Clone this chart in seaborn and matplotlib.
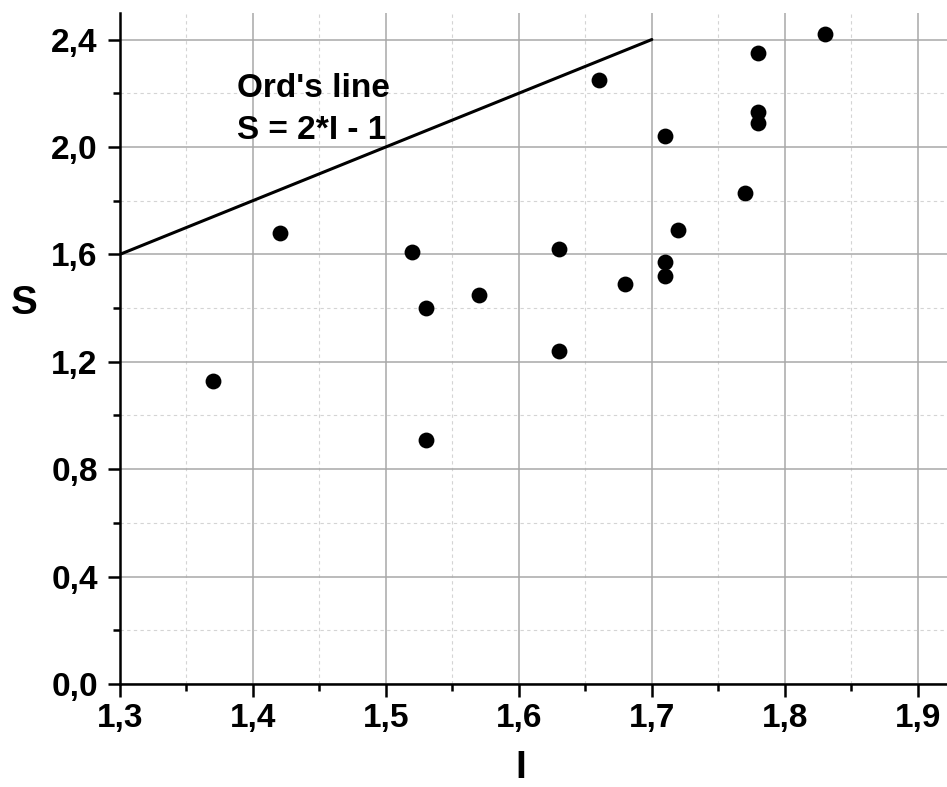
import matplotlib
matplotlib.use("Agg")
import matplotlib.pyplot as plt
import seaborn as sns
import pandas as pd
from matplotlib.ticker import MultipleLocator, FuncFormatter

I_vals = [1.37, 1.42, 1.52, 1.53, 1.53, 1.57, 1.63, 1.63, 1.66, 1.68,
          1.71, 1.71, 1.71, 1.72, 1.77, 1.78, 1.78, 1.78, 1.83]
S_vals = [1.13, 1.68, 1.61, 1.40, 0.91, 1.45, 1.62, 1.24, 2.25, 1.49,
          2.04, 1.57, 1.52, 1.69, 1.83, 2.35, 2.13, 2.09, 2.42]
line_I = [1.3, 1.7]
line_S = [1.6, 2.4]

sns.set_style("white")
plt.rcParams['font.family'] = ['Liberation Sans', 'DejaVu Sans']
plt.rcParams['text.color'] = 'black'
plt.rcParams['axes.labelcolor'] = 'black'
plt.rcParams['xtick.color'] = 'black'
plt.rcParams['ytick.color'] = 'black'

fig = plt.figure(figsize=(9.47, 7.87), dpi=100)
ax = fig.add_axes([0.1267, 0.1309, 0.8733, 0.853])

df = pd.DataFrame({"I": I_vals, "S": S_vals})
ld = pd.DataFrame({"I": line_I, "S": line_S})

sns.lineplot(data=ld, x="I", y="S", ax=ax, color="black", linewidth=2.2, zorder=3)
sns.scatterplot(data=df, x="I", y="S", ax=ax, color="black", s=130, edgecolor="black",
                linewidth=0, zorder=4)

ax.set_xlim(1.3, 1.922)
ax.set_ylim(0, 2.5)
ax.xaxis.set_major_locator(MultipleLocator(0.1))
ax.xaxis.set_minor_locator(MultipleLocator(0.05))
ax.yaxis.set_major_locator(MultipleLocator(0.4))
ax.yaxis.set_minor_locator(MultipleLocator(0.2))
fmt1 = FuncFormatter(lambda v, p: f"{v:.1f}".replace(".", ","))
ax.xaxis.set_major_formatter(fmt1)
ax.yaxis.set_major_formatter(fmt1)

ax.grid(True, which="major", color="#a8a8a8", linewidth=1.1, linestyle="-")
ax.grid(True, which="minor", color="#d4d4d4", linewidth=0.8, linestyle=(0, (3, 3)))
ax.set_axisbelow(True)

for s in ["top", "right"]:
    ax.spines[s].set_visible(False)
for s in ["left", "bottom"]:
    ax.spines[s].set_linewidth(1.8)
    ax.spines[s].set_color("black")

ax.tick_params(which="major", direction="out", length=9, width=1.8, labelsize=24,
               color="black", labelcolor="black")
ax.tick_params(axis="y", which="major", pad=7)
ax.tick_params(axis="x", which="major", pad=5)
ax.tick_params(which="minor", direction="out", length=5, width=1.8, color="black")
ax.tick_params(axis="both", which="both", bottom=True, left=True)
for lab in ax.get_xticklabels() + ax.get_yticklabels():
    lab.set_fontweight("bold")

ax.set_xlabel("I", fontsize=28, fontweight="bold", va="top")
ax.xaxis.set_label_coords(0.485, -0.098)
ax.set_ylabel("S", fontsize=29, fontweight="bold", rotation=0, va="center", ha="center")
ax.yaxis.set_label_coords(-0.116, 0.568)

ax.text(1.388, 2.218, "Ord's line", fontsize=24, fontweight="bold", ha="left", va="center")
ax.text(1.388, 2.061, "S = 2*I - 1", fontsize=24, fontweight="bold", ha="left", va="center")

fig.savefig("out.png", dpi=100)
